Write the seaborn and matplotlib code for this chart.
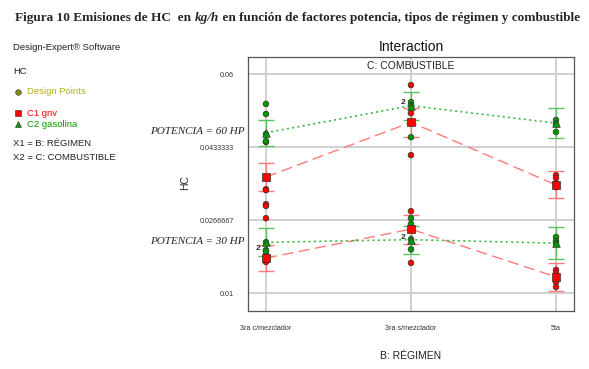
import matplotlib
matplotlib.use('Agg')
import matplotlib.pyplot as plt
import seaborn as sns
import pandas as pd
import numpy as np

# categories / ticks
regimen = ['3ra c/mezclador', '3ra s/mezclador', '5ta']
y_ticks = [0.01, 0.0266667, 0.0433333, 0.06]
y_tick_labels = ['0.01', '0.0266667', '0.0433333', '0.06']

# predicted means (HC, kg/h) and error half widths
mean_gnv_60 = [0.0365, 0.0490, 0.0347]
mean_gas_60 = [0.0466, 0.0528, 0.0488]
mean_gnv_30 = [0.0180, 0.0246, 0.0137]
mean_gas_30 = [0.0216, 0.0222, 0.0214]
err_gnv_60 = [0.0031, 0.0033, 0.0031]
err_gas_60 = [0.0030, 0.0032, 0.0035]
err_gnv_30 = [0.0029, 0.0033, 0.0032]
err_gas_30 = [0.0032, 0.0032, 0.0036]

# design points
pts_gnv = [
    [0.0445, 0.0337, 0.0335, 0.0303, 0.0299, 0.0271, 0.0187, 0.0180, 0.0171],
    [0.0575, 0.0511, 0.0490, 0.0415, 0.0287, 0.0246, 0.0169],
    [0.0369, 0.0363, 0.0351, 0.0342, 0.0153, 0.0146, 0.0137, 0.0125, 0.0114],
]
pts_gas = [
    [0.0532, 0.0509, 0.0463, 0.0447, 0.0216, 0.0198, 0.0196],
    [0.0536, 0.0529, 0.0456, 0.0271, 0.0258, 0.0223, 0.0200],
    [0.0495, 0.0486, 0.0468, 0.0228, 0.0219, 0.0214],
]
# points shown as "2" (duplicate runs)
dup_pts = [(0, 0.0198), (1, 0.0532), (1, 0.0223)]

RED = '#ff0000'
GREEN = '#009a00'
RED_LIGHT = '#ff7a7a'
GREEN_LIGHT = '#5cc35c'

sns.set_style('white')
plt.rcParams['font.family'] = ['Liberation Sans', 'DejaVu Sans']

fig = plt.figure(figsize=(5.89, 3.69), dpi=100)
ax = fig.add_axes([0.421, 0.157, 0.5535, 0.6885])

# design points dataframe
rows = []
for i, vals in enumerate(pts_gnv):
    for v in vals:
        rows.append({'x': i, 'HC': v, 'Combustible': 'C1 gnv'})
for i, vals in enumerate(pts_gas):
    for v in vals:
        rows.append({'x': i, 'HC': v, 'Combustible': 'C2 gasolina'})
pts = pd.DataFrame(rows)

means = pd.DataFrame({
    'x': [0, 1, 2] * 4,
    'HC': mean_gnv_60 + mean_gas_60 + mean_gnv_30 + mean_gas_30,
    'err': err_gnv_60 + err_gas_60 + err_gnv_30 + err_gas_30,
    'Combustible': ['C1 gnv'] * 3 + ['C2 gasolina'] * 3 + ['C1 gnv'] * 3 + ['C2 gasolina'] * 3,
    'Potencia': ['60'] * 6 + ['30'] * 6,
})

# error bars
for comb, col in [('C1 gnv', RED_LIGHT), ('C2 gasolina', GREEN_LIGHT)]:
    sub = means[means['Combustible'] == comb]
    ax.errorbar(sub['x'], sub['HC'], yerr=sub['err'], fmt='none', ecolor=col,
                elinewidth=1.0, capsize=6, capthick=1.0, zorder=2)

# lines between means
for pot in ['60', '30']:
    sub = means[(means['Potencia'] == pot) & (means['Combustible'] == 'C1 gnv')]
    sns.lineplot(data=sub, x='x', y='HC', color=RED_LIGHT, lw=1.0, ax=ax, zorder=3)
    ax.lines[-1].set_dashes([8, 4])
    sub = means[(means['Potencia'] == pot) & (means['Combustible'] == 'C2 gasolina')]
    sns.lineplot(data=sub, x='x', y='HC', color='#3cb83c', lw=1.2, ax=ax, zorder=3)
    ax.lines[-1].set_dashes([1.2, 2])

# design points
sns.scatterplot(data=pts, x='x', y='HC', hue='Combustible',
                palette={'C1 gnv': RED, 'C2 gasolina': GREEN},
                marker='o', s=17, edgecolor='#333333', linewidth=0.5,
                legend=False, ax=ax, zorder=4)

# mean markers
sns.scatterplot(data=means[means['Combustible'] == 'C1 gnv'], x='x', y='HC',
                color=RED, marker='s', s=30, edgecolor='#333333', linewidth=0.5,
                legend=False, ax=ax, zorder=5)
sns.scatterplot(data=means[means['Combustible'] == 'C2 gasolina'], x='x', y='HC',
                color=GREEN, marker='^', s=30, edgecolor='#333333', linewidth=0.5,
                legend=False, ax=ax, zorder=5)

for xi, yi in dup_pts:
    ax.annotate('2', (xi, yi), xytext=(-6, 1), textcoords='offset points',
                fontsize=6, fontweight='bold', ha='center', va='center', zorder=6)

ax.set_xlim(-0.124, 2.124)
ax.set_ylim(0.0059, 0.0639)
ax.set_xticks([0, 1, 2])
ax.set_xticklabels(regimen, fontsize=5.2)
ax.set_yticks(y_ticks)
ax.set_yticklabels(y_tick_labels, fontsize=5.2)
ax.tick_params(axis='y', length=8, width=0.8, pad=2, colors='#333333')
ax.tick_params(axis='x', length=4, width=0.8, pad=6, colors='#333333')
ax.grid(True, color='#cdcdcd', lw=1.3)
ax.set_axisbelow(True)
for s in ax.spines.values():
    s.set_color('#555555')
    s.set_linewidth(0.9)
ax.set_xlabel('')
ax.set_ylabel('')

ax.text(0.5, 0.985, 'C: COMBUSTIBLE', transform=ax.transAxes, ha='center', va='top',
        fontsize=7.5, color='#222222')
fig.text(411 / 589, 1 - 47 / 369, 'Interaction', ha='center', va='center', fontsize=10, color='#111111')
fig.text(411 / 589, 1 - 356 / 369, 'B: RÉGIMEN', ha='center', va='center', fontsize=7.5, color='#222222')
fig.text(185 / 589, 1 - 182 / 369, 'HC', rotation=90, ha='center', va='center', fontsize=7.5, color='#222222')

# POTENCIA labels
fig.text(245 / 589, 1 - 131 / 369, 'POTENCIA = 60 HP', ha='right', va='center',
         fontsize=8, style='italic', family='Liberation Serif')
fig.text(245 / 589, 1 - 241 / 369, 'POTENCIA = 30 HP', ha='right', va='center',
         fontsize=8, style='italic', family='Liberation Serif')

# left side info block
fs = 6.8
fig.text(13 / 589, 1 - 47 / 369, 'Design-Expert® Software', fontsize=fs, va='center', color='#222222')
fig.text(13 / 589, 1 - 71 / 369, 'HC', fontsize=fs, va='center', color='#222222')
fig.text(27 / 589, 1 - 92 / 369, 'Design Points', fontsize=fs, va='center', color='#b5ae1e')
fig.text(27 / 589, 1 - 113 / 369, 'C1 gnv', fontsize=fs, va='center', color=RED)
fig.text(27 / 589, 1 - 124 / 369, 'C2 gasolina', fontsize=fs, va='center', color=GREEN)
fig.text(13 / 589, 1 - 144 / 369, 'X1 = B: RÉGIMEN', fontsize=fs, va='center', color='#222222')
fig.text(13 / 589, 1 - 157 / 369, 'X2 = C: COMBUSTIBLE', fontsize=fs, va='center', color='#222222')
fig.lines.append(plt.Line2D([18 / 589], [1 - 92 / 369], marker='o', ms=4, color='#8a8a1a',
                            mec='#444444', mew=0.5, transform=fig.transFigure, figure=fig))
fig.lines.append(plt.Line2D([18 / 589], [1 - 113 / 369], marker='s', ms=4.5, color=RED,
                            mec='#444444', mew=0.5, transform=fig.transFigure, figure=fig))
fig.lines.append(plt.Line2D([18 / 589], [1 - 124 / 369], marker='^', ms=4.5, color=GREEN,
                            mec='#444444', mew=0.5, transform=fig.transFigure, figure=fig))

# title with italic "kg/h"
renderer = fig.canvas.get_renderer()
parts = [('Figura 10 Emisiones de HC  en ', 'normal'), ('kg/h', 'italic'),
         (' en función de factores potencia, tipos de régimen y combustible', 'normal')]
widths = []
texts = []
for txt, st in parts:
    t = fig.text(0, 1 - 18 / 369, txt, fontsize=9.5, fontweight='bold', style=st,
                 family='Liberation Serif', va='center', ha='left')
    texts.append(t)
    widths.append(t.get_window_extent(renderer).width)
x0 = 15
for t, w in zip(texts, widths):
    t.set_x(x0 / 589)
    x0 += w

fig.savefig('out.png', dpi=100)
